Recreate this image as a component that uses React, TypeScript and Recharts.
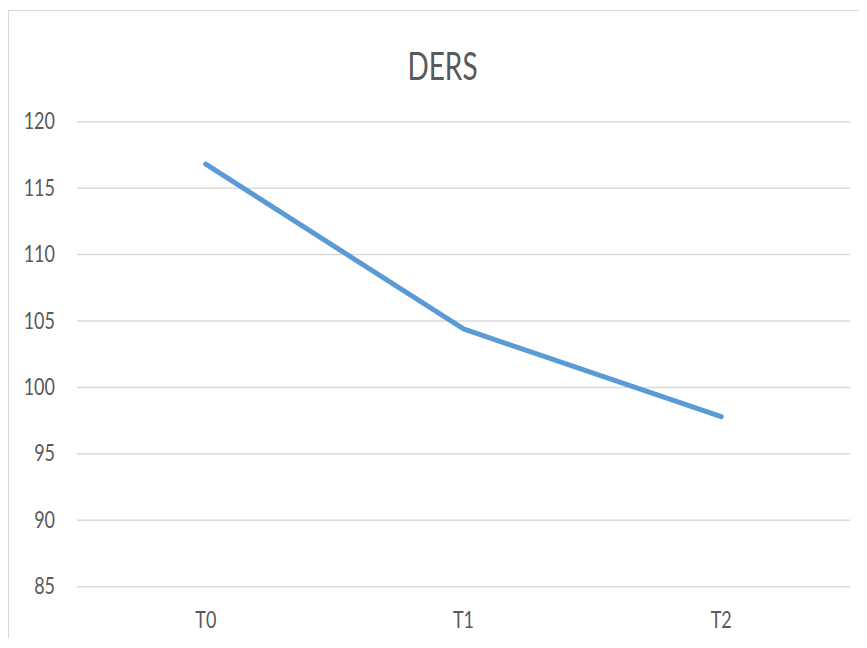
import React from 'react';
import { LineChart, Line, XAxis, YAxis, CartesianGrid } from 'recharts';

const categories = ['T0', 'T1', 'T2'];
const dersValues = [116.8, 104.4, 97.8];
const yTicks = [85, 90, 95, 100, 105, 110, 115, 120];

const data = categories.map((name, i) => ({ name, value: dersValues[i] }));

const textColor = '#595959';
const lineColor = '#5b9bd5';
const font = 'Lato, "Open Sans", sans-serif';

function YTick(props: any) {
  const { x, y, payload } = props;
  return (
    <text
      transform={`translate(${x},${y + 7.6}) scale(1,1.25)`}
      textAnchor="end"
      fill={textColor}
      fontSize={18}
      fontFamily={font}
    >
      {payload.value}
    </text>
  );
}

function XTick(props: any) {
  const { x, y, payload } = props;
  return (
    <text
      transform={`translate(${x},${y + 41}) scale(1,1.3)`}
      textAnchor="middle"
      fill={textColor}
      fontSize={18}
      fontFamily={font}
    >
      {payload.value}
    </text>
  );
}

export default function App() {
  return (
    <div
      style={{
        position: 'relative',
        top: 2,
        width: 851,
        height: 638,
        marginBottom: -8,
        overflow: 'hidden',
      }}
    >
      <div
        style={{
          position: 'absolute',
          left: 0,
          top: 0,
          width: 900,
          height: 700,
          border: '1px solid #d9d9d9',
          boxSizing: 'border-box',
        }}
      />
      <div style={{ position: 'absolute', left: 0, top: 0 }}>
        <LineChart
          width={851}
          height={630}
          data={data}
          margin={{ top: 111.7, right: 9, left: 0, bottom: 13.3 }}
        >
          <text
            transform="translate(434.5,70) scale(1,1.35)"
            textAnchor="middle"
            fill={textColor}
            fontSize={28}
            fontFamily={font}
          >
            DERS
          </text>
          <CartesianGrid vertical={false} stroke="#d9d9d9" strokeWidth={1.5} />
          <XAxis
            dataKey="name"
            axisLine={false}
            tickLine={false}
            tickSize={0}
            tickMargin={0}
            height={40}
            padding={{ left: 128.8, right: 128.8 }}
            tick={<XTick />}
            interval={0}
          />
          <YAxis
            domain={[85, 120]}
            ticks={yTicks}
            axisLine={false}
            tickLine={false}
            tickSize={0}
            tickMargin={22}
            width={69}
            tick={<YTick />}
            interval={0}
          />
          <Line
            type="linear"
            dataKey="value"
            stroke={lineColor}
            strokeWidth={5}
            strokeLinecap="round"
            strokeLinejoin="round"
            dot={false}
            activeDot={false}
            isAnimationActive={false}
          />
        </LineChart>
      </div>
    </div>
  );
}
